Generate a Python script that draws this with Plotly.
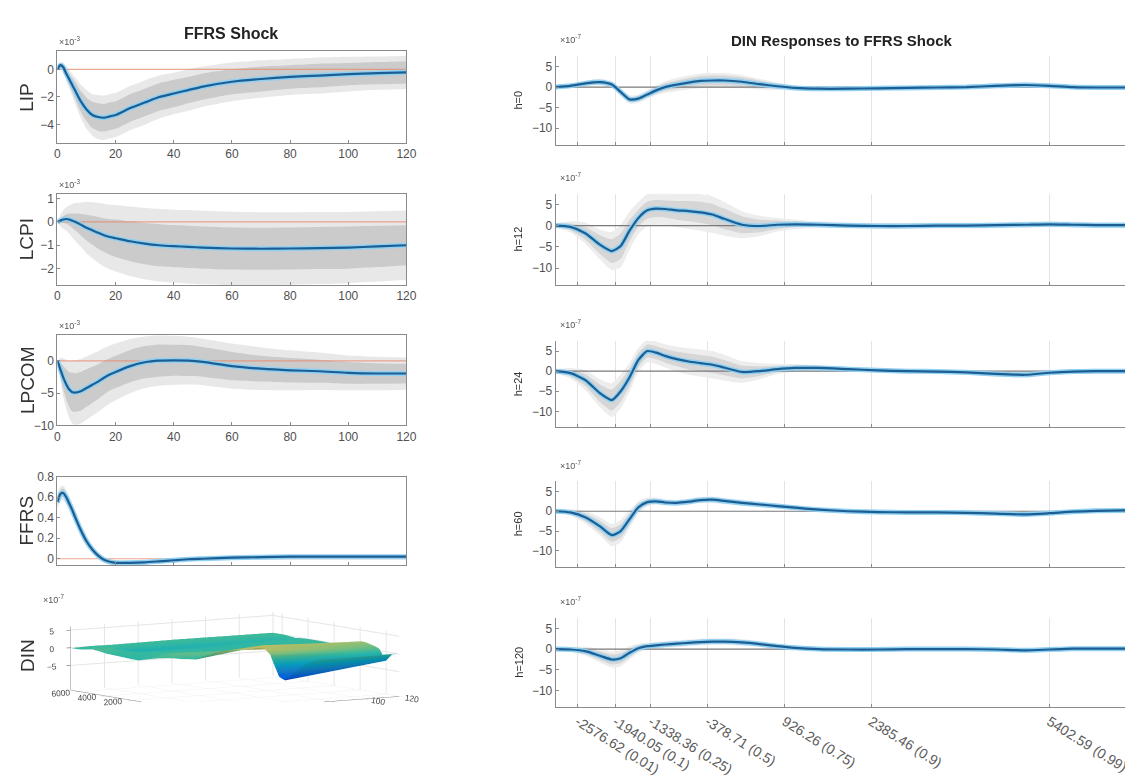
import plotly.graph_objects as go
import numpy as np

# ---------------- data ----------------
H = [0, 1, 2, 3, 4, 5, 6, 8, 10, 12, 14, 16, 18, 20, 25, 30, 35, 40, 45, 50, 60, 70, 80, 90, 100, 110, 120]

LIP_mid = [0, 0.3, 0.15, -0.3, -0.7, -1.1, -1.5, -2.3, -2.9, -3.3, -3.45, -3.5, -3.4, -3.3, -2.8, -2.4, -2.0, -1.75, -1.5, -1.25, -0.9, -0.7, -0.55, -0.45, -0.35, -0.28, -0.22]
LIP_w68 = [0, 0.1, 0.2, 0.3, 0.4, 0.5, 0.6, 0.75, 0.85, 0.95, 1.0, 1.0, 1.0, 1.0, 1.0, 1.0, 1.0, 1.0, 0.95, 0.95, 0.9, 0.9, 0.85, 0.85, 0.8, 0.8, 0.8]
LIP_w90 = [0, 0.2, 0.35, 0.5, 0.65, 0.8, 0.95, 1.2, 1.4, 1.5, 1.6, 1.6, 1.6, 1.6, 1.6, 1.6, 1.55, 1.5, 1.5, 1.45, 1.4, 1.35, 1.3, 1.3, 1.25, 1.2, 1.2]

LCPI_mid = [0, 0.05, 0.1, 0.12, 0.1, 0.05, 0.0, -0.12, -0.25, -0.36, -0.47, -0.57, -0.65, -0.7, -0.83, -0.93, -1.0, -1.04, -1.07, -1.1, -1.14, -1.15, -1.14, -1.12, -1.1, -1.05, -1.0]
LCPI_w68 = [0, 0.08, 0.15, 0.2, 0.25, 0.3, 0.35, 0.45, 0.55, 0.62, 0.68, 0.72, 0.76, 0.8, 0.85, 0.88, 0.9, 0.9, 0.9, 0.9, 0.9, 0.9, 0.9, 0.9, 0.9, 0.88, 0.85]
LCPI_w90 = [0, 0.25, 0.4, 0.5, 0.6, 0.7, 0.8, 0.95, 1.1, 1.2, 1.28, 1.34, 1.38, 1.42, 1.48, 1.52, 1.55, 1.56, 1.57, 1.57, 1.57, 1.56, 1.55, 1.54, 1.52, 1.5, 1.48]

LPCOM_mid = [0, -1.3, -2.6, -3.6, -4.4, -4.8, -4.9, -4.7, -4.2, -3.7, -3.2, -2.6, -2.1, -1.7, -0.8, -0.2, 0.05, 0.1, 0.05, -0.15, -0.8, -1.2, -1.45, -1.6, -1.85, -1.95, -1.95]
LPCOM_w68 = [0, 1.0, 1.8, 2.3, 2.7, 3.0, 3.0, 3.0, 2.9, 2.8, 2.7, 2.6, 2.5, 2.5, 2.5, 2.5, 2.5, 2.4, 2.4, 2.3, 2.2, 2.0, 1.9, 1.8, 1.7, 1.6, 1.5]
LPCOM_w90 = [0, 1.8, 3.0, 3.8, 4.4, 4.8, 5.0, 5.0, 4.9, 4.8, 4.7, 4.6, 4.5, 4.4, 4.2, 4.0, 3.9, 3.8, 3.7, 3.6, 3.5, 3.3, 3.1, 2.9, 2.7, 2.6, 2.5]

FFRS_mid = [0.55, 0.63, 0.64, 0.6, 0.54, 0.48, 0.41, 0.28, 0.17, 0.09, 0.03, -0.01, -0.03, -0.04, -0.04, -0.035, -0.025, -0.015, -0.005, 0.0, 0.01, 0.015, 0.02, 0.02, 0.02, 0.02, 0.02]
FFRS_w68 = [0.04, 0.04, 0.04, 0.04, 0.04, 0.04, 0.04, 0.035, 0.03, 0.025, 0.02, 0.02, 0.02, 0.015, 0.015, 0.012, 0.012, 0.01, 0.01, 0.01, 0.01, 0.01, 0.01, 0.01, 0.01, 0.01, 0.01]
FFRS_w90 = [0.08, 0.07, 0.07, 0.07, 0.07, 0.07, 0.065, 0.06, 0.05, 0.04, 0.035, 0.03, 0.03, 0.025, 0.022, 0.02, 0.018, 0.016, 0.015, 0.015, 0.015, 0.015, 0.015, 0.015, 0.015, 0.015, 0.015]

DIN_X = [-2950, -2700, -2450, -2200, -2000, -1850, -1700, -1550, -1400, -1250, -1100, -900, -700, -500, -300, -100,
         200, 500, 800, 1100, 1500, 2000, 2500, 3000, 3500, 4000, 4500, 5000, 5400, 5800, 6200, 6700]

h0_mid = [0, 0.3, 0.9, 1.2, 0.6, -1.2, -3.0, -2.8, -1.8, -0.8, 0.0, 0.6, 1.1, 1.5, 1.6, 1.6, 1.3, 0.7, 0.2, -0.2, -0.4, -0.4, -0.3, -0.2, -0.1, 0.0, 0.3, 0.5, 0.3, 0.0, -0.1, -0.1]
h0_w68 = [0.2, 0.3, 0.4, 0.5, 0.5, 0.6, 0.6, 0.6, 0.7, 0.8, 0.9, 1.0, 1.1, 1.2, 1.2, 1.2, 1.1, 0.9, 0.6, 0.4, 0.3, 0.3, 0.3, 0.3, 0.3, 0.3, 0.35, 0.4, 0.35, 0.3, 0.3, 0.3]
h0_w90 = [0.3, 0.5, 0.7, 0.8, 0.8, 0.9, 1.0, 1.0, 1.1, 1.2, 1.4, 1.6, 1.7, 1.8, 1.8, 1.8, 1.6, 1.3, 0.9, 0.6, 0.5, 0.5, 0.5, 0.5, 0.5, 0.5, 0.6, 0.7, 0.6, 0.5, 0.5, 0.5]

h12_mid = [0, -0.3, -1.8, -4.5, -6.0, -4.8, -1.2, 1.8, 3.6, 4.0, 3.9, 3.6, 3.4, 3.1, 2.6, 1.6, 0.2, -0.1, 0.2, 0.3, 0.2, 0.0, -0.1, -0.1, 0.0, 0.0, 0.1, 0.2, 0.3, 0.2, 0.1, 0.1]
h12_w68 = [0.3, 0.8, 1.5, 2.2, 2.8, 3.0, 2.5, 2.0, 2.0, 2.0, 2.0, 2.2, 2.4, 2.5, 2.5, 2.4, 2.0, 1.5, 1.0, 0.7, 0.5, 0.4, 0.4, 0.4, 0.4, 0.4, 0.4, 0.4, 0.4, 0.4, 0.4, 0.4]
h12_w90 = [0.5, 1.3, 2.5, 3.5, 4.5, 5.0, 4.5, 3.8, 3.8, 3.8, 3.8, 4.0, 4.2, 4.3, 4.3, 4.0, 3.2, 2.4, 1.6, 1.1, 0.8, 0.7, 0.7, 0.7, 0.7, 0.7, 0.7, 0.7, 0.7, 0.7, 0.7, 0.7]

h24_mid = [0, -0.5, -2.2, -5.5, -7.2, -5.0, -1.5, 2.8, 5.0, 4.6, 3.8, 3.0, 2.4, 2.0, 1.6, 0.9, -0.2, 0.0, 0.5, 0.8, 0.8, 0.5, 0.2, 0.0, -0.1, -0.3, -0.7, -0.9, -0.4, -0.1, 0.0, 0.0]
h24_w68 = [0.3, 0.8, 1.5, 2.2, 2.6, 2.6, 2.2, 1.8, 1.6, 1.6, 1.7, 1.8, 2.0, 2.0, 2.0, 1.9, 1.6, 1.2, 0.8, 0.6, 0.5, 0.4, 0.4, 0.4, 0.4, 0.4, 0.4, 0.4, 0.4, 0.4, 0.4, 0.4]
h24_w90 = [0.5, 1.3, 2.5, 3.5, 4.2, 4.2, 3.6, 3.0, 2.8, 2.8, 2.9, 3.1, 3.3, 3.4, 3.4, 3.2, 2.7, 2.0, 1.3, 0.9, 0.7, 0.6, 0.6, 0.6, 0.6, 0.6, 0.7, 0.7, 0.6, 0.6, 0.6, 0.6]

h60_mid = [0, -0.3, -1.5, -3.8, -6.0, -5.0, -2.0, 1.0, 2.3, 2.5, 2.2, 2.1, 2.4, 2.8, 2.9, 2.6, 2.1, 1.7, 1.3, 0.9, 0.4, 0.0, -0.2, -0.3, -0.3, -0.4, -0.6, -0.8, -0.5, -0.1, 0.1, 0.2]
h60_w68 = [0.2, 0.5, 1.0, 1.4, 1.7, 1.7, 1.4, 1.0, 0.7, 0.6, 0.5, 0.5, 0.5, 0.5, 0.5, 0.5, 0.5, 0.5, 0.4, 0.4, 0.3, 0.3, 0.3, 0.3, 0.3, 0.3, 0.3, 0.3, 0.3, 0.3, 0.3, 0.3]
h60_w90 = [0.3, 0.8, 1.6, 2.3, 2.8, 2.8, 2.3, 1.6, 1.1, 0.9, 0.8, 0.8, 0.8, 0.8, 0.8, 0.8, 0.8, 0.7, 0.6, 0.6, 0.5, 0.5, 0.5, 0.5, 0.5, 0.5, 0.5, 0.5, 0.5, 0.5, 0.5, 0.5]

h120_mid = [0, -0.1, -0.5, -1.6, -2.5, -2.2, -0.9, 0.2, 0.7, 0.9, 1.1, 1.3, 1.5, 1.7, 1.8, 1.8, 1.6, 1.2, 0.7, 0.3, 0.0, -0.1, -0.1, 0.0, 0.0, 0.0, -0.1, -0.3, -0.1, 0.1, 0.1, 0.1]
h120_w68 = [0.2, 0.4, 0.7, 1.0, 1.2, 1.2, 1.0, 0.7, 0.5, 0.5, 0.5, 0.5, 0.5, 0.5, 0.5, 0.5, 0.5, 0.4, 0.4, 0.3, 0.3, 0.3, 0.3, 0.3, 0.3, 0.3, 0.3, 0.3, 0.3, 0.3, 0.3, 0.3]
h120_w90 = [0.3, 0.6, 1.1, 1.6, 1.9, 1.9, 1.6, 1.1, 0.8, 0.8, 0.8, 0.8, 0.8, 0.8, 0.8, 0.8, 0.8, 0.7, 0.6, 0.5, 0.5, 0.5, 0.5, 0.5, 0.5, 0.5, 0.5, 0.5, 0.5, 0.5, 0.5, 0.5]

SURF_H = [0, 12, 24, 60, 120]
SURF_H_TICKS = [20, 40, 60, 80, 100, 120]
SURF_DIN_TICKS = [-2000, 0, 2000, 4000, 6000]

DIN_TICKS = [-2576.62, -1940.05, -1338.36, -378.71, 926.26, 2385.46, 5402.59]
DIN_TICKTEXT = ["-2576.62 (0.01)", "-1940.05 (0.1)", "-1338.36 (0.25)", "-378.71 (0.5)",
                "926.26 (0.75)", "2385.46 (0.9)", "5402.59 (0.99)"]

left_names = ["LIP", "LCPI", "LPCOM", "FFRS"]
right_names = ["h=0", "h=12", "h=24", "h=60", "h=120"]

# ---------------- layout geometry ----------------
W, Hh = 1133, 776
FONT = "Liberation Sans, Arial, sans-serif"

def dx(a, b):
    return [a / W, b / W]

def dy(top, bottom):
    return [1 - bottom / Hh, 1 - top / Hh]

def px(x):
    return x / W

def py(y):
    return 1 - y / Hh

left_x = dx(47, 400)
left_y = [(37, 130), (182, 275), (326, 418), (470, 560)]
left_ranges = [[-5.3, 1.3], [-2.7, 1.2], [-10, 4], [-0.06, 0.8]]
left_ticks = [[-4, -2, 0], [-2, -1, 0, 1], [-10, -5, 0], [0, 0.2, 0.4, 0.6, 0.8]]
left_exp = [True, True, True, False]

right_x = dx(551, 1128)
right_y = [(42, 132), (182, 275), (332, 420), (475, 562), (614, 705)]

left_data = [(LIP_mid, LIP_w68, LIP_w90), (LCPI_mid, LCPI_w68, LCPI_w90),
             (LPCOM_mid, LPCOM_w68, LPCOM_w90), (FFRS_mid, FFRS_w68, FFRS_w90)]
right_data = [(h0_mid, h0_w68, h0_w90), (h12_mid, h12_w68, h12_w90), (h24_mid, h24_w68, h24_w90),
              (h60_mid, h60_w68, h60_w90), (h120_mid, h120_w68, h120_w90)]

fig = go.Figure()

def add_panel(xv, mid, w68, w90, xa, ya, outer_col, inner_col, zero_col, xr):
    mid = np.array(mid, float)
    w68 = np.array(w68, float)
    w90 = np.array(w90, float)
    for w, col in ((w90, outer_col), (w68, inner_col)):
        fig.add_trace(go.Scatter(x=xv, y=mid - w, mode="lines", line=dict(width=0, shape="spline", smoothing=0.6),
                                 xaxis=xa, yaxis=ya, showlegend=False, hoverinfo="skip"))
        fig.add_trace(go.Scatter(x=xv, y=mid + w, mode="lines", line=dict(width=0, shape="spline", smoothing=0.6),
                                 fill="tonexty", fillcolor=col, xaxis=xa, yaxis=ya, showlegend=False, hoverinfo="skip"))
    fig.add_trace(go.Scatter(x=xr, y=[0, 0], mode="lines", line=dict(color=zero_col, width=1.2),
                             xaxis=xa, yaxis=ya, showlegend=False, hoverinfo="skip"))
    fig.add_trace(go.Scatter(x=xv, y=mid, mode="lines", line=dict(color="#8fd0f3", width=5, shape="spline", smoothing=0.6),
                             xaxis=xa, yaxis=ya, showlegend=False, hoverinfo="skip"))
    fig.add_trace(go.Scatter(x=xv, y=mid, mode="lines", line=dict(color="#1c5e92", width=2.2, shape="spline", smoothing=0.6),
                             xaxis=xa, yaxis=ya, showlegend=False, hoverinfo="skip"))

layout = dict(width=W, height=Hh, margin=dict(l=0, r=0, t=0, b=0), paper_bgcolor="white",
              plot_bgcolor="white", font=dict(family=FONT, color="#404040"), showlegend=False)
annotations = []

def note(text, x, y, size, color="#333333", angle=0, xanchor="center", yanchor="middle"):
    annotations.append(dict(text=text, x=px(x), y=py(y), xref="paper", yref="paper", textangle=angle,
                            xanchor=xanchor, yanchor=yanchor, showarrow=False,
                            font=dict(size=size, color=color, family=FONT)))

AX_COL = "#8a8a8a"
for i in range(4):
    n = i + 1
    xa, ya = ("x" if n == 1 else f"x{n}"), ("y" if n == 1 else f"y{n}")
    mid, w68, w90 = left_data[i]
    add_panel(H, mid, w68, w90, xa, ya, "#e8e8e8", "#cbcbcb", "rgba(230,140,110,0.75)", [0, 120])
    layout[f"xaxis{n}"] = dict(domain=left_x, anchor=ya, range=[0, 120], tickvals=[0, 20, 40, 60, 80, 100, 120],
                               showline=True, mirror=True, linecolor=AX_COL, linewidth=1, ticks="inside", ticklen=3,
                               tickcolor=AX_COL, showgrid=False, zeroline=False,
                               tickfont=dict(size=12, color="#505050", family=FONT))
    layout[f"yaxis{n}"] = dict(domain=dy(*left_y[i]), anchor=xa, range=left_ranges[i], tickvals=left_ticks[i],
                               showline=True, mirror=True, linecolor=AX_COL, linewidth=1, ticks="inside", ticklen=3,
                               tickcolor=AX_COL, showgrid=False, zeroline=False,
                               tickfont=dict(size=12, color="#505050", family=FONT))
    top, bot = left_y[i]
    note(left_names[i], 16, (top + bot) / 2, 19, angle=-90)
    if left_exp[i]:
        note("×10<sup>-3</sup>", 47, top - 2, 9, color="#555555", xanchor="left", yanchor="bottom")

for j in range(5):
    n = 5 + j
    xa, ya = f"x{n}", f"y{n}"
    mid, w68, w90 = right_data[j]
    add_panel(DIN_X, mid, w68, w90, xa, ya, "#ededed", "#d6d6d6", "#7a7a7a", [-2950, 6700])
    last = (j == 4)
    layout[f"xaxis{n}"] = dict(domain=right_x, anchor=ya, range=[-2950, 6700], tickvals=DIN_TICKS,
                               ticktext=DIN_TICKTEXT, showticklabels=last, tickangle=32,
                               showline=True, mirror=False, linecolor="#8a8a8a", linewidth=1.2,
                               ticks="inside", ticklen=3, tickcolor="#8a8a8a",
                               showgrid=True, gridcolor="#e3e3e3", gridwidth=1, zeroline=False,
                               tickfont=dict(size=14, color="#5a5a5a", family=FONT))
    layout[f"yaxis{n}"] = dict(domain=dy(*right_y[j]), anchor=xa, range=[-14, 7.5], tickvals=[-10, -5, 0, 5],
                               showline=True, mirror=False, linecolor="#8a8a8a", linewidth=1,
                               ticks="inside", ticklen=3, tickcolor="#8a8a8a", showgrid=False, zeroline=False,
                               tickfont=dict(size=12, color="#505050", family=FONT))
    top, bot = right_y[j]
    note(right_names[j], 513, (top + bot) / 2, 11, angle=-90)
    note("×10<sup>-7</sup>", 553, top - 9, 9, color="#555555", xanchor="left", yanchor="bottom")

# ---------------- 3D surface ----------------
Z = np.array([h0_mid, h12_mid, h24_mid, h60_mid, h120_mid], float).T
parula = [[0.0, "#352a87"], [0.125, "#0363e1"], [0.25, "#1485d4"], [0.375, "#06a7c6"], [0.5, "#38b99e"],
          [0.625, "#92bf73"], [0.75, "#d9ba56"], [0.875, "#fcce2e"], [1.0, "#f9fb0e"]]
fig.add_trace(go.Surface(x=SURF_H, y=DIN_X, z=Z, colorscale=parula, cmin=-7, cmax=7, showscale=False,
                         scene="scene", hoverinfo="skip",
                         lighting=dict(ambient=0.85, diffuse=0.3, specular=0.05)))
ax3 = dict(showbackground=False, gridcolor="#e6e6e6", zeroline=False, showline=True, linecolor="#888888",
           ticks="outside", tickfont=dict(size=10, color="#444444", family=FONT), title=dict(text=""),
           showspikes=False)
layout["scene"] = dict(
    domain=dict(x=[0.0, 0.4], y=[0.032, 0.272]),
    xaxis=dict(ax3, range=[0, 120], tickvals=SURF_H_TICKS),
    yaxis=dict(ax3, range=[-3000, 6700], tickvals=SURF_DIN_TICKS),
    zaxis=dict(ax3, range=[-12, 6], tickvals=[-5, 0, 5]),
    aspectmode="manual", aspectratio=dict(x=2.65, y=2.5, z=0.7),
    camera=dict(eye=dict(x=-0.45, y=-0.68, z=0.09), center=dict(x=0, y=0, z=0),
                projection=dict(type="orthographic")),
    bgcolor="white")
note("DIN", 16, 652, 19, angle=-90)
note("×10<sup>-7</sup>", 30, 603, 9, color="#555555", xanchor="left", yanchor="bottom")

# ---------------- titles ----------------
note("<b>FFRS Shock</b>", 223, 19, 16, color="#222222")
note("<b>DIN Responses to FFRS Shock</b>", 841, 26, 15, color="#222222")

layout["annotations"] = annotations
fig.update_layout(**layout)
fig.write_html("out.html")
